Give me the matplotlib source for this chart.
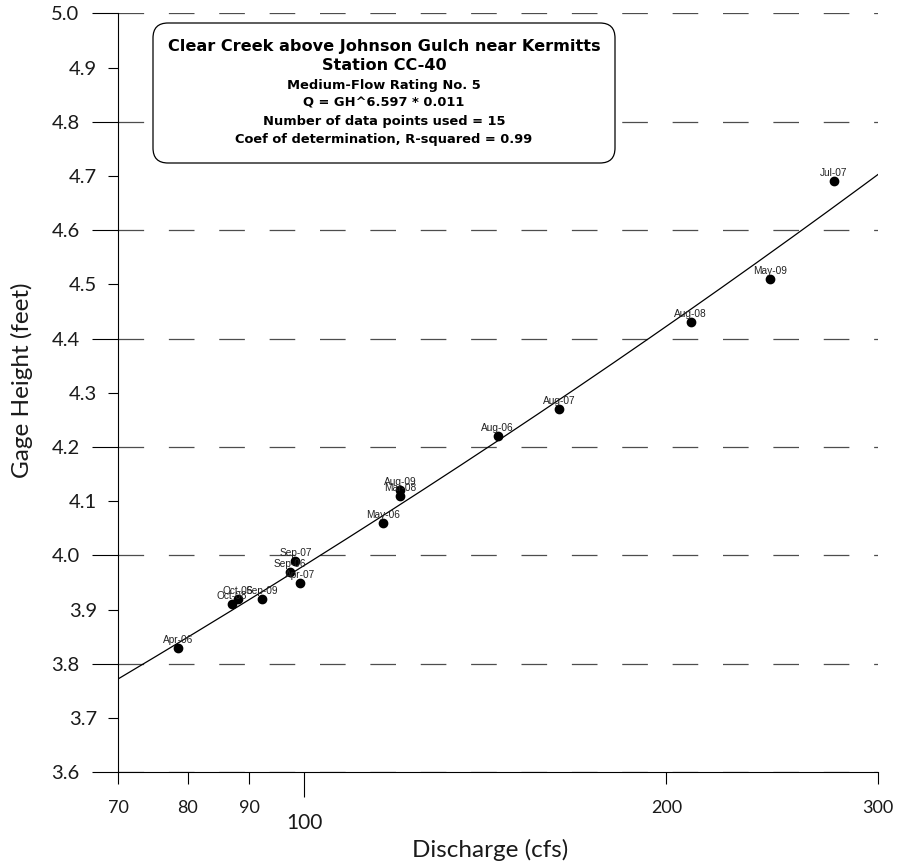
import numpy as np
import matplotlib
matplotlib.use("Agg")
import matplotlib.pyplot as plt
from matplotlib.patches import FancyBboxPatch
from matplotlib.ticker import FixedLocator, FixedFormatter

# ---------------- data ----------------
labels = ["Apr-06", "Oct-08", "Oct-06", "Sep-09", "Sep-06", "Sep-07", "Apr-07",
          "May-06", "Aug-09", "Mar-08", "Aug-06", "Aug-07", "Aug-08", "May-09", "Jul-07"]
discharge = [78.5, 87.1, 88.1, 92.2, 97.3, 98.3, 99.2,
             116.2, 120.1, 120.1, 144.8, 162.8, 209.5, 244.0, 275.6]
gage_height = [3.83, 3.91, 3.92, 3.92, 3.97, 3.99, 3.95,
               4.06, 4.12, 4.11, 4.22, 4.27, 4.43, 4.51, 4.69]

coef = 0.011
expo = 6.597
q_range = [70, 300]

xticks_short = [70, 80, 90, 200, 300]
xtick_long = [100]
y_major = [3.6, 3.8, 4.0, 4.2, 4.4, 4.6, 4.8, 5.0]
y_minor = [3.7, 3.9, 4.1, 4.3, 4.5, 4.7, 4.9]

title_lines = ["Clear Creek above Johnson Gulch near Kermitts", "Station CC-40"]
sub_lines = ["Medium-Flow Rating No. 5", "Q = GH^6.597 * 0.011",
             "Number of data points used = 15",
             "Coef of determination, R-squared = 0.99"]

# ---------------- figure ----------------
W, H = 897, 866
fig = plt.figure(figsize=(W / 100, H / 100), dpi=100)
ax = fig.add_axes([118 / W, 1 - 772.3 / H, (878.3 - 118) / W, (772.3 - 13.3) / H])

THIN = ["Lato", "DejaVu Sans"]
ARIAL = ["Liberation Sans", "DejaVu Sans"]
BOLDF = ["DejaVu Sans"]
TXT = "#1a1a1a"

ax.set_xscale("log")
ax.set_xlim(q_range)
ax.set_ylim(3.6, 5.0)

# fit line
q = np.geomspace(q_range[0], q_range[1], 300)
gh = (q / coef) ** (1.0 / expo)
ax.plot(q, gh, color="black", lw=0.9, zorder=3)

# points
ax.plot(discharge, gage_height, "o", color="black", ms=6, zorder=4)
for lab, x, y in zip(labels, discharge, gage_height):
    ax.annotate(lab, (x, y), xytext=(0, 3.6), textcoords="offset points",
                ha="center", va="baseline", fontsize=7.3, family=ARIAL,
                color="#222222", zorder=5)

# spines
for s in ["top", "right"]:
    ax.spines[s].set_visible(False)
for s in ["left", "bottom"]:
    ax.spines[s].set_linewidth(0.8)
    ax.spines[s].set_color("black")
    ax.spines[s].set_zorder(3)

# y ticks
ax.yaxis.set_major_locator(FixedLocator(y_major))
ax.yaxis.set_minor_locator(FixedLocator(y_minor))
ax.yaxis.set_major_formatter(FixedFormatter([f"{v:.1f}" for v in y_major]))
ax.yaxis.set_minor_formatter(FixedFormatter([f"{v:.1f}" for v in y_minor]))
ax.tick_params(axis="y", which="major", length=18.7, width=0.8, pad=9, labelsize=14.5)
ax.tick_params(axis="y", which="minor", length=7.2, width=0.8, pad=8, labelsize=14.5)

# x ticks
ax.xaxis.set_major_locator(FixedLocator(xticks_short))
ax.xaxis.set_major_formatter(FixedFormatter([str(v) for v in xticks_short]))
ax.xaxis.set_minor_locator(FixedLocator(xtick_long))
ax.xaxis.set_minor_formatter(FixedFormatter([str(v) for v in xtick_long]))
ax.tick_params(axis="x", which="major", length=8.6, width=0.8, pad=11, labelsize=13)
ax.tick_params(axis="x", which="minor", length=18, width=0.8, pad=11, labelsize=15)

for lab in ax.get_xticklabels(which="both") + ax.get_yticklabels(which="both"):
    lab.set_fontfamily(THIN)
    lab.set_color(TXT)

# gridlines (dashed) at major y ticks
ax.yaxis.grid(True, which="major", color="#4d4d4d", lw=0.9,
              linestyle=(0, (20.5, 19.8)), zorder=1)
ax.set_axisbelow(True)

ax.set_xlabel("Discharge (cfs)", fontsize=17.5, color=TXT, family=THIN)
ax.set_ylabel("Gage Height (feet)", fontsize=17.5, color=TXT, family=THIN)
ax.xaxis.set_label_coords((490 - 118) / (878.3 - 118), -(850 - 772.3) / (772.3 - 13.3))
ax.xaxis.label.set_va("center")
ax.yaxis.set_label_coords(-(118 - 22) / (878.3 - 118), (772.3 - 380) / (772.3 - 13.3))
ax.yaxis.label.set_va("center")

# title box (pixel coordinates -> inches)
def px(x, y):
    return x / 100, (H - y) / 100

bx0, by0 = px(153, 163)
bx1, by1 = px(615, 23)
box = FancyBboxPatch((bx0, by0), bx1 - bx0, by1 - by0,
                     boxstyle="round,pad=0,rounding_size=0.15",
                     transform=fig.dpi_scale_trans, facecolor="white",
                     edgecolor="black", lw=0.9, zorder=6, clip_on=False)
ax.add_patch(box)

cx = 384
for txt, yy in zip(title_lines, [46, 66]):
    ax.text(*px(cx, yy), txt, transform=fig.dpi_scale_trans, ha="center", va="center",
            fontsize=11.6, fontweight="bold", family=BOLDF, zorder=7)
for txt, yy in zip(sub_lines, [85, 103, 122, 140]):
    ax.text(*px(cx, yy), txt, transform=fig.dpi_scale_trans, ha="center", va="center",
            fontsize=9.4, fontweight="bold", family=BOLDF, zorder=7)

fig.savefig("out.png", dpi=100)
